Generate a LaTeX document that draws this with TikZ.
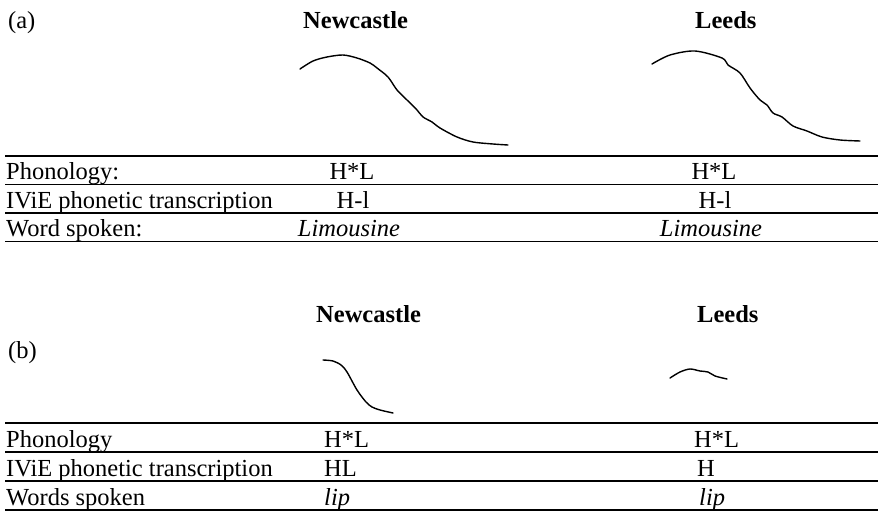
\documentclass[tikz,border=0pt]{standalone}
\usepackage{fontspec}
\setmainfont{Liberation Serif}
\begin{document}
\begin{tikzpicture}[x=1pt,y=-1pt,
  txt/.style={anchor=base west,inner sep=0pt,font=\fontsize{24.5}{26}\selectfont},
  ctxt/.style={txt,anchor=base},
  head/.style={txt,font=\fontsize{24.5}{26}\selectfont\bfseries},
  rule/.style={line width=1.4pt},
  pitch/.style={line width=1.4pt,line cap=round,line join=round}]
\useasboundingbox (0,0) rectangle (880,513);
% ---------- (a) ----------
\node[txt] (la) at (8,29) {(a)};
\node[head] (nA) at (303,29) {Newcastle};
\node[head] (lA) at (695,29) {Leeds};
\draw[pitch] plot[smooth,tension=0.5] coordinates {(300,69) (313,61) (327,57) (343,55) (357,58) (370,63) (377,68) (388,77) (397,90) (407,100) (417,110) (423,117) (432,122) (440,128) (457,137) (473,142) (493,144) (508,145)};
\draw[pitch] plot[smooth,tension=0.5] coordinates {(652,64) (670,55) (695,51) (722,58) (728,65) (740,73) (750,88) (760,100) (767,105) (773,113) (782,117) (793,126) (807,131) (822,137) (840,140) (860,141)};
\coordinate (a0l) at (5,156);   \coordinate (a0r) at (878,156);
\coordinate (a1l) at (5,184.5); \coordinate (a1r) at (878,184.5);
\coordinate (a2l) at (5,213);   \coordinate (a2r) at (878,213);
\coordinate (a3l) at (5,241.5); \coordinate (a3r) at (878,241.5);
\draw[rule] (a0l) -- (a0r);
\draw[rule] (a1l) -- (a1r);
\draw[rule] (a2l) -- (a2r);
\draw[rule] (a3l) -- (a3r);
\node[txt] (ap) at (6,179.5) {Phonology:};
\node[ctxt] (ap1) at (352,179.5) {H*L};
\node[ctxt] (ap2) at (714,179.5) {H*L};
\node[txt] (ai) at (6,208) {IViE phonetic transcription};
\node[ctxt] (ai1) at (353,208) {H-l};
\node[ctxt] (ai2) at (715,208) {H-l};
\node[txt] (aw) at (6,236.5) {Word spoken:};
\node[ctxt] (aw1) at (349,236.5) {\itshape Limousine};
\node[ctxt] (aw2) at (711,236.5) {\itshape Limousine};
% ---------- (b) ----------
\node[head] (nB) at (316,322) {Newcastle};
\node[head] (lB) at (697,322) {Leeds};
\node[txt] (lb) at (8,358) {(b)};
\draw[pitch] plot[smooth,tension=0.5] coordinates {(323,360) (333,361) (341,365) (347,372) (357,390) (366,402) (372,407) (380,410) (393,413)};
\draw[pitch] plot[smooth,tension=0.5] coordinates {(670,378) (680,372) (690,369) (700,371) (708,372) (715,376) (727,379)};
\coordinate (b0l) at (5,423); \coordinate (b0r) at (878,423);
\coordinate (b1l) at (5,452); \coordinate (b1r) at (878,452);
\coordinate (b2l) at (5,481); \coordinate (b2r) at (878,481);
\coordinate (b3l) at (5,510); \coordinate (b3r) at (878,510);
\draw[rule] (b0l) -- (b0r);
\draw[rule] (b1l) -- (b1r);
\draw[rule] (b2l) -- (b2r);
\draw[rule] (b3l) -- (b3r);
\node[txt] (bp) at (6,447) {Phonology};
\node[txt] (bp1) at (324,447) {H*L};
\node[txt] (bp2) at (694,447) {H*L};
\node[txt] (bi) at (6,476) {IViE phonetic transcription};
\node[txt] (bi1) at (324,476) {HL};
\node[txt] (bi2) at (697,476) {H};
\node[txt] (bw) at (6,505) {Words spoken};
\node[txt] (bw1) at (324,505) {\itshape lip};
\node[txt] (bw2) at (699,505) {\itshape lip};
\end{tikzpicture}
\end{document}
